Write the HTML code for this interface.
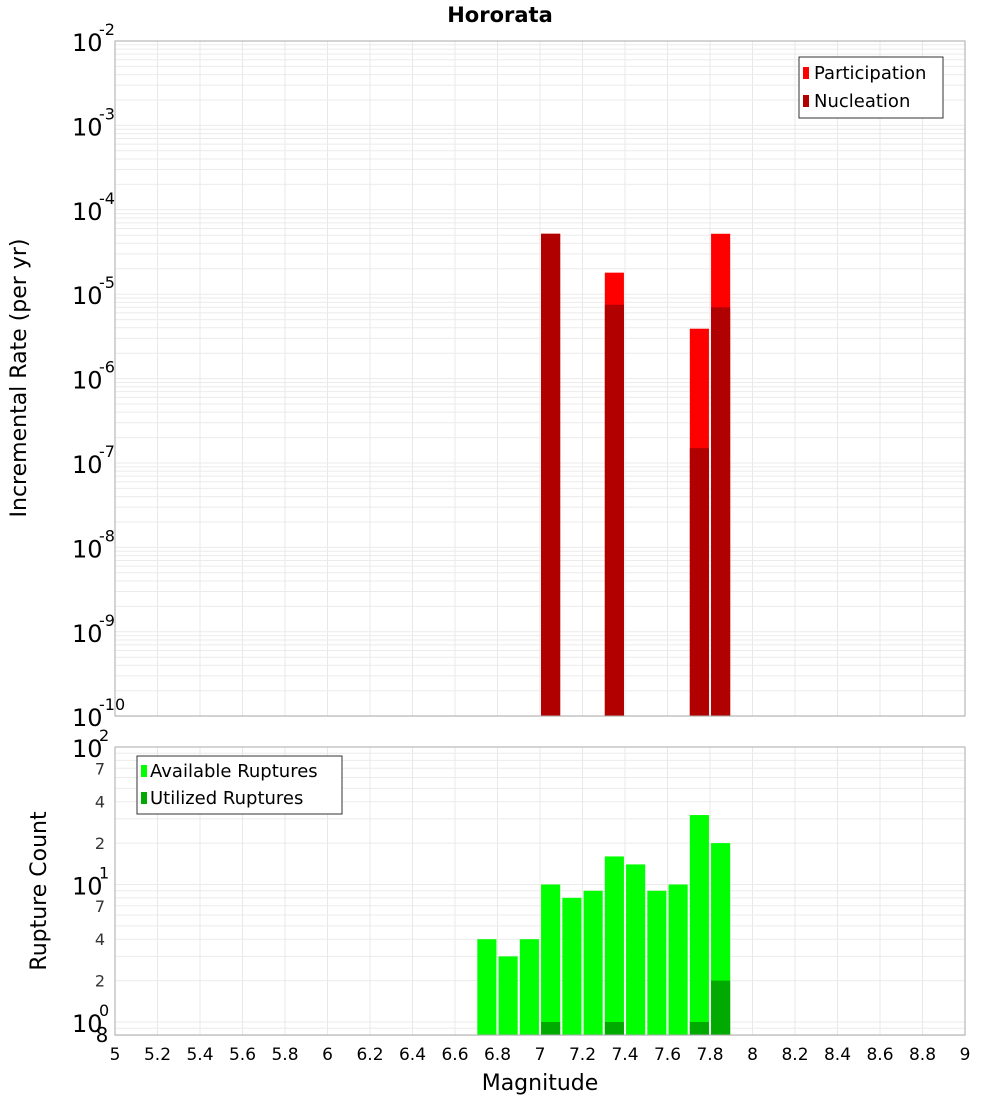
<!DOCTYPE html>
<html><head><meta charset="utf-8">
<style>
body{margin:0;background:#fff;width:1000px;height:1100px;overflow:hidden}
svg{font-family:"DejaVu Sans","Liberation Sans",sans-serif}
</style></head>
<body>
<svg id="chart" width="1000" height="1100" xmlns="http://www.w3.org/2000/svg">
<text x="500" y="22" text-anchor="middle" font-size="21" font-weight="bold">Hororata</text>
<g id="grid"></g>
<g id="bars"></g>
<rect x="115" y="41" width="850" height="675" fill="none" stroke="#aaa"/>
<rect x="115" y="747" width="850" height="288" fill="none" stroke="#aaa"/>
<g id="labels"></g>
<text transform="translate(26,378) rotate(-90)" text-anchor="middle" font-size="22">Incremental Rate (per yr)</text>
<text transform="translate(46,891) rotate(-90)" text-anchor="middle" font-size="22">Rupture Count</text>
<text x="540" y="1090" text-anchor="middle" font-size="22">Magnitude</text>
<g>
<rect x="799" y="57" width="144" height="61" fill="#fff" stroke="#333"/>
<rect x="803" y="67" width="6" height="12" fill="#ff0000"/>
<text x="814" y="79" font-size="18">Participation</text>
<rect x="803" y="95" width="6" height="12" fill="#b00000"/>
<text x="814" y="107" font-size="18">Nucleation</text>
</g>
<g>
<rect x="137" y="756" width="205" height="58" fill="#fff" stroke="#333"/>
<rect x="141" y="765" width="6" height="12" fill="#00ff00"/>
<text x="150" y="777" font-size="18">Available Ruptures</text>
<rect x="141" y="792" width="6" height="12" fill="#00aa00"/>
<text x="150" y="804" font-size="18">Utilized Ruptures</text>
</g>
</svg>
<script>
const mags=[6.75,6.85,6.95,7.05,7.15,7.25,7.35,7.45,7.55,7.65,7.75,7.85];
const available=[4,3,4,10,8,9,16,14,9,10,32,20];
const utilized=[0,0,0,1,0,0,1,0,0,0,1,2];
const rateMags=[7.05,7.35,7.75,7.85];
const participation=[5.2e-5,1.8e-5,3.9e-6,5.2e-5];
const nucleation=[5.2e-5,7.5e-6,1.5e-7,7e-6];
const xTicks=[5,5.2,5.4,5.6,5.8,6,6.2,6.4,6.6,6.8,7,7.2,7.4,7.6,7.8,8,8.2,8.4,8.6,8.8,9];
const topExps=[-2,-3,-4,-5,-6,-7,-8,-9,-10];
const botExps=[2,1,0];
const botMinor=[7,4,2];

const NS="http://www.w3.org/2000/svg";
const X=m=>115+(m-5)*212.5;
const Yt=v=>41+(-2-Math.log10(v))*84.4;
const Yb=v=>1022+(0-Math.log10(v))*137.5;
function el(p,t,a){const e=document.createElementNS(NS,t);for(const k in a)e.setAttribute(k,a[k]);p.appendChild(e);return e;}
const grid=document.getElementById('grid'),bars=document.getElementById('bars'),labels=document.getElementById('labels');
// vertical grid
xTicks.forEach(t=>{
  const x=X(t);
  let l=el(grid,'line',{x1:x,x2:x,y1:41,y2:716,stroke:'#e8e8e8'});
  
  
  l=el(grid,'line',{x1:x,x2:x,y1:747,y2:1035,stroke:'#e8e8e8'});
  
  
  const tx=el(labels,'text',{x:x,y:1060,'text-anchor':'middle','font-size':17});
  tx.textContent=String(t);
  
  
});
// top log grid
for(let e=-10;e<-2;e++){for(let k=1;k<10;k++){const y=Yt(k*Math.pow(10,e));
  const l=el(grid,'line',{x1:115,x2:965,y1:y,y2:y,stroke:'#ebebeb'});
  
  }}
topExps.forEach(e=>{const y=Yt(Math.pow(10,e));
  const t=el(labels,'text',{x:72,y:y+10,'font-size':24});
  t.textContent='10';
  
  
  const s=el(labels,'text',{x:99,y:y-6,'font-size':16});
  s.textContent=String(e);
  
  });
// bottom log grid
for(let e=-1;e<2;e++){for(let k=1;k<10;k++){const v=k*Math.pow(10,e);if(v<0.8)continue;const y=Yb(v);
  const l=el(grid,'line',{x1:115,x2:965,y1:y,y2:y,stroke:'#ebebeb'});
  
  }}
botExps.forEach(e=>{const y=Yb(Math.pow(10,e));
  const t=el(labels,'text',{x:72,y:y+10,'font-size':24});
  t.textContent='10';
  
  
  const s=el(labels,'text',{x:99,y:y-6,'font-size':16});
  s.textContent=String(e);
  
  
  if(e>0)botMinor.forEach(k=>{const yy=Yb(k*Math.pow(10,e-1));
    const m=el(labels,'text',{x:105,y:yy+6,'font-size':16,'text-anchor':'end',fill:'#333'});
    m.textContent=String(k);
    
    });
});
const eight=el(labels,'text',{x:102,y:1042,'font-size':20,'text-anchor':'middle'});
eight.textContent='8';


// bars
const bw=0.09*212.5;
rateMags.forEach((m,i)=>{const x=X(m)-bw/2;
  let y=Yt(participation[i]);
  let r=el(bars,'rect',{x:x,y:y,width:bw,height:716-y,fill:'#ff0000'});
  
  
  y=Yt(nucleation[i]);
  r=el(bars,'rect',{x:x,y:y,width:bw,height:716-y,fill:'#b00000'});
  
  });
mags.forEach((m,i)=>{const x=X(m)-bw/2;
  let y=Yb(available[i]);
  let r=el(bars,'rect',{x:x,y:y,width:bw,height:1035-y,fill:'#00ff00'});
  
  
  if(utilized[i]>0){y=Yb(utilized[i]);
  r=el(bars,'rect',{x:x,y:y,width:bw,height:1035-y,fill:'#00aa00'});
  
  }});
</script>
</body></html>
